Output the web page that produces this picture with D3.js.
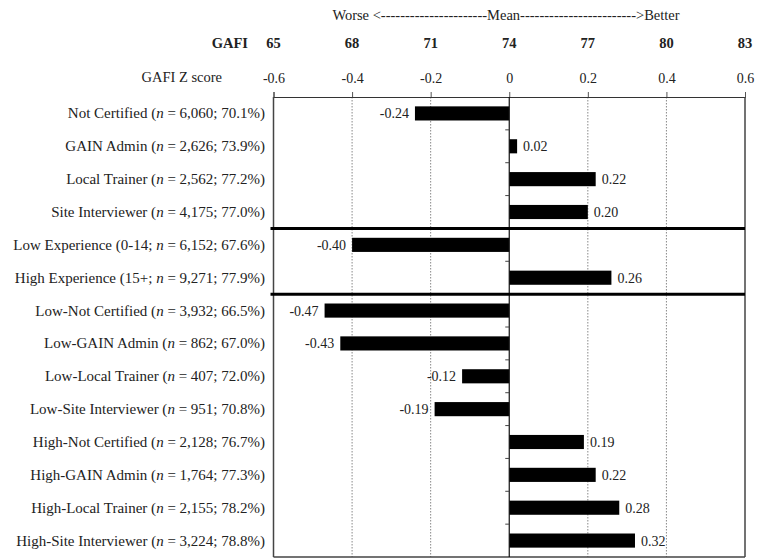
<!DOCTYPE html>
<html><head><meta charset="utf-8">
<script src="https://cdn.jsdelivr.net/npm/d3@7"></script>
<style>body{margin:0;background:#fff}svg{display:block}text{font-family:"Liberation Serif","Times New Roman",serif;fill:#222}</style>
</head><body><svg id="c" width="757" height="560"></svg>
<script>
const labels = [
  ["Not Certified (", "6,060; 70.1%)"],
  ["GAIN Admin (", "2,626; 73.9%)"],
  ["Local Trainer (", "2,562; 77.2%)"],
  ["Site Interviewer (", "4,175; 77.0%)"],
  ["Low Experience (0-14; ", "6,152; 67.6%)"],
  ["High Experience (15+; ", "9,271; 77.9%)"],
  ["Low-Not Certified (", "3,932; 66.5%)"],
  ["Low-GAIN Admin (", "862; 67.0%)"],
  ["Low-Local Trainer (", "407; 72.0%)"],
  ["Low-Site Interviewer (", "951; 70.8%)"],
  ["High-Not Certified (", "2,128; 76.7%)"],
  ["High-GAIN Admin (", "1,764; 77.3%)"],
  ["High-Local Trainer (", "2,155; 78.2%)"],
  ["High-Site Interviewer (", "3,224; 78.8%)"]
];
const zValues = [-0.24, 0.02, 0.22, 0.20, -0.40, 0.26, -0.47, -0.43, -0.12, -0.19, 0.19, 0.22, 0.28, 0.32];
const zTicks = [-0.6, -0.4, -0.2, 0, 0.2, 0.4, 0.6];
const gafiTicks = [65, 68, 71, 74, 77, 80, 83];
const separatorsAfter = [4, 6];

(function () {
const svg = d3.select("#c");
const pL = 273.5, pR = 745, pT = 97, pB = 557;
const x = d3.scaleLinear().domain([-0.6, 0.6]).range([pL, pR]);
const y = d3.scaleBand().domain(d3.range(labels.length)).range([pT, pB]).paddingInner(0.57).paddingOuter(0.285);
const step = y.step();
const hy = s => s.replace(/\u2212/g, "-");

// header
svg.append("text").attr("x", 506).attr("y", 20).attr("text-anchor", "middle").style("font-size", "14.5px")
  .text("Worse <----------------------Mean------------------------>Better");
svg.append("text").attr("x", 248).attr("y", 48).attr("text-anchor", "end").style("font-size", "14.5px").style("font-weight", "bold").text("GAFI");
svg.selectAll(".gafi").data(gafiTicks).join("text").attr("class", "gafi")
  .attr("x", (d, i) => x(zTicks[i])).attr("y", 48).attr("text-anchor", "middle")
  .style("font-size", "14.5px").style("font-weight", "bold").text(d => d);
svg.append("text").attr("x", 222).attr("y", 82).attr("text-anchor", "end").style("font-size", "14.5px").text("GAFI Z score");

// grid
svg.selectAll(".grid").data(zTicks.filter(d => d !== 0 && Math.abs(d) < 0.6)).join("line").attr("class", "grid")
  .attr("x1", d => x(d)).attr("x2", d => x(d)).attr("y1", pT).attr("y2", pB)
  .attr("stroke", "#888").attr("stroke-width", 1).attr("stroke-dasharray", "1.5,1.5");

// top axis
const ax = d3.axisTop(x).tickValues(zTicks).tickSize(5).tickFormat(d => d === 0 ? "0" : hy(d3.format(".1f")(d)));
const g = svg.append("g").attr("transform", `translate(0,${pT})`).call(ax);
g.attr("font-family", null).attr("font-size", null);
g.select(".domain").attr("stroke", "#333");
g.selectAll(".tick line").attr("stroke", "#555");
g.selectAll(".tick text").attr("y", -14).style("font-size", "14px").attr("fill", "#222");

// borders
svg.append("line").attr("x1", pL).attr("x2", pL).attr("y1", pT).attr("y2", pB).attr("stroke", "#444").attr("stroke-width", 1.5);
svg.append("line").attr("x1", pR).attr("x2", pR).attr("y1", pT).attr("y2", pB).attr("stroke", "#444").attr("stroke-width", 1.5);
svg.append("line").attr("x1", pL).attr("x2", pR).attr("y1", pB).attr("y2", pB).attr("stroke", "#444").attr("stroke-width", 1.5);

// bars
svg.selectAll(".bar").data(zValues).join("rect").attr("class", "bar")
  .attr("x", d => x(Math.min(0, d))).attr("width", d => Math.abs(x(d) - x(0)))
  .attr("y", (d, i) => y(i)).attr("height", y.bandwidth()).attr("fill", "#000");

// zero line + ticks
svg.append("line").attr("x1", x(0)).attr("x2", x(0)).attr("y1", pT).attr("y2", pB).attr("stroke", "#111").attr("stroke-width", 1.2);
svg.selectAll(".ztick").data(d3.range(1, labels.length)).join("line").attr("class", "ztick")
  .attr("x1", x(0) - 4).attr("x2", x(0)).attr("y1", i => pT + i * step).attr("y2", i => pT + i * step)
  .attr("stroke", "#444");

// separators
svg.selectAll(".sep").data(separatorsAfter).join("line").attr("class", "sep")
  .attr("x1", pL - 3).attr("x2", pR).attr("y1", d => pT + d * step).attr("y2", d => pT + d * step)
  .attr("stroke", "#000").attr("stroke-width", 3);

// value labels
svg.selectAll(".val").data(zValues).join("text").attr("class", "val")
  .attr("x", d => d < 0 ? x(d) - 6 : x(d) + 6)
  .attr("y", (d, i) => y(i) + y.bandwidth() / 2 + 5)
  .attr("text-anchor", d => d < 0 ? "end" : "start").style("font-size", "14px")
  .text(d => hy(d3.format(".2f")(d)));

// row labels
const lab = svg.selectAll(".lab").data(labels).join("text").attr("class", "lab")
  .attr("x", 265).attr("y", (d, i) => y(i) + y.bandwidth() / 2 + 5).attr("text-anchor", "end").style("font-size", "15px");
lab.append("tspan").text(d => d[0]);
lab.append("tspan").style("font-style", "italic").text("n");
lab.append("tspan").text(d => " = " + d[1]);
})();
</script></body></html>
